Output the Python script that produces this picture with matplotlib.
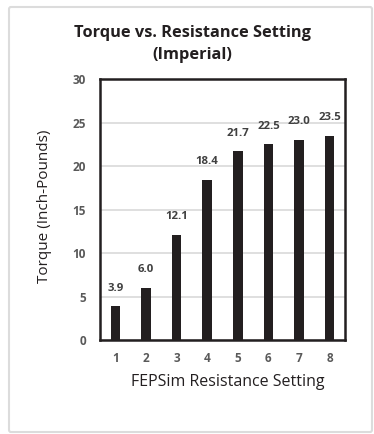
import matplotlib
matplotlib.use("Agg")
import matplotlib.pyplot as plt
from matplotlib.patches import FancyBboxPatch

settings = [1, 2, 3, 4, 5, 6, 7, 8]
torque = [3.9, 6.0, 12.1, 18.4, 21.7, 22.5, 23.0, 23.5]
yticks = [0, 5, 10, 15, 20, 25, 30]

W, H = 374, 434
dpi = 100
fig = plt.figure(figsize=(W / dpi, H / dpi), dpi=dpi)
fig.patch.set_facecolor("white")

# outer frame
frame = FancyBboxPatch((9 / W, 2 / H), 363 / W, 425 / H,
                       boxstyle="round,pad=0,rounding_size=0.005",
                       transform=fig.transFigure, facecolor="white",
                       edgecolor="#dcdcdc", linewidth=1.5, zorder=-5)
fig.patches.append(frame)

left, right, top, bottom = 100, 345, 79, 340
ax = fig.add_axes([left / W, 1 - bottom / H, (right - left) / W, (bottom - top) / H])
ax.set_zorder(2)
ax.patch.set_alpha(0)
ax.bar(settings, torque, width=0.31, color="#231f20", zorder=3)
ax.set_xlim(0.5, 8.5)
ax.set_ylim(0, 30)
ax.set_yticks(yticks)
ax.set_xticks(settings)
ax.grid(axis="y", color="#d9d9d9", linewidth=1.2, zorder=0)
for s in ax.spines.values():
    s.set_linewidth(1.8)
    s.set_color("#231f20")
ax.tick_params(length=0, pad=10, labelsize=8.5, labelcolor="#595959")
for lab in ax.get_xticklabels() + ax.get_yticklabels():
    lab.set_fontweight("bold")
    lab.set_family("Open Sans")
ax.tick_params(axis="x", pad=9)

for x, v in zip(settings, torque):
    ax.annotate(f"{v:.1f}", (x, v), xytext=(0, 9), textcoords="offset points",
                ha="center", va="bottom", fontsize=8.2, fontweight="bold",
                color="#404040", family="Open Sans")

fig.text(192 / W, 1 - 44 / H, "Torque vs. Resistance Setting\n(Imperial)",
         ha="center", va="center", fontsize=11.8, fontweight="bold",
         color="#231f20", family="Open Sans", linespacing=1.55)
fig.text(45 / W, 1 - 206 / H, "Torque (Inch-Pounds)", rotation=90,
         ha="center", va="center", fontsize=11, color="#231f20", family="Open Sans")
fig.text(228 / W, 1 - 382 / H, "FEPSim Resistance Setting",
         ha="center", va="center", fontsize=11.5, color="#231f20", family="Open Sans")

fig.savefig("out.png", dpi=dpi)
